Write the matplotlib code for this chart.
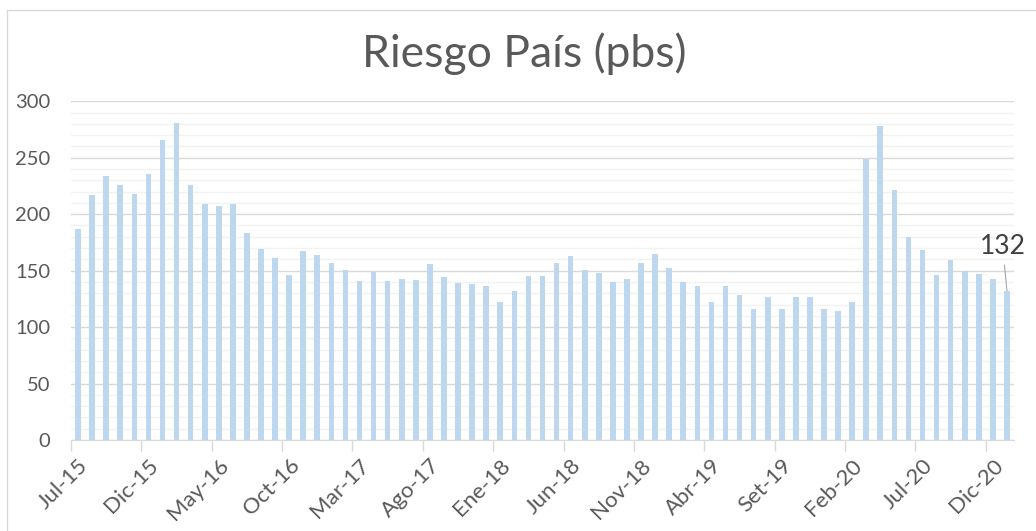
import matplotlib.pyplot as plt
from matplotlib.patches import Rectangle

meses = ['Ene', 'Feb', 'Mar', 'Abr', 'May', 'Jun', 'Jul', 'Ago', 'Set', 'Oct', 'Nov', 'Dic']

# Jul-15 .. Ene-21
riesgo = [187, 217, 234, 226, 218, 236, 266, 281, 226, 209, 207, 209,
          183, 169, 161, 146, 167, 164, 157, 151, 141, 149, 141, 143,
          142, 156, 144, 139, 138, 136, 122, 132, 145, 145, 157, 163,
          151, 148, 140, 143, 157, 165, 152, 140, 136, 122, 136, 128,
          116, 127, 116, 127, 127, 116, 114, 122, 249, 278, 221, 180,
          168, 146, 159, 150, 147, 143, 132]

etiquetas = []
for i in range(len(riesgo)):
    m = (6 + i) % 12
    a = 15 + (6 + i) // 12
    etiquetas.append(f'{meses[m]}-{a}')

plt.rcParams['font.family'] = ['Lato', 'DejaVu Sans']
gris = '#595959'

fig = plt.figure(figsize=(10.36, 5.31), dpi=100)
ax = fig.add_axes([71 / 1036, 1 - 440 / 531, (1014 - 71) / 1036, (440 - 101.3) / 531])

x = list(range(len(riesgo)))
ax.bar(x, riesgo, width=0.4, color='#bdd7ee', zorder=3)

ax.set_xlim(-0.5, len(riesgo) - 0.5)
ax.set_ylim(0, 300)
ax.set_yticks(range(0, 301, 50))
ax.set_yticks(range(0, 301, 10), minor=True)
ax.grid(axis='y', which='major', color='#d9d9d9', lw=1, zorder=0)
ax.grid(axis='y', which='minor', color='#f2f2f2', lw=1, zorder=0)

pos = x[::5]
ax.set_xticks(pos)
ax.set_xticklabels([etiquetas[i] for i in pos], rotation=45, ha='right',
                   rotation_mode='anchor')
ax.set_xticks([p - 0.5 for p in pos], minor=True)
ax.tick_params(axis='x', which='major', length=0, pad=11, labelsize=16, labelcolor=gris)
ax.tick_params(axis='x', which='minor', length=8, color='#d9d9d9', width=1)
ax.tick_params(axis='y', which='both', length=0, labelsize=14.5, labelcolor=gris, pad=15)

for s in ['top', 'right', 'left']:
    ax.spines[s].set_visible(False)
ax.spines['bottom'].set_color('#d9d9d9')
ax.spines['bottom'].set_zorder(4)

ax.annotate(str(riesgo[-1]), xy=(x[-1], riesgo[-1]), xytext=(x[-1] - 0.3, 171),
            ha='center', va='center', fontsize=19, color='#404040',
            arrowprops=dict(arrowstyle='-', color='#a6a6a6', lw=0.8, shrinkA=2, shrinkB=0))

fig.text(524 / 1036, 1 - 67 / 531, 'Riesgo País (pbs)', ha='center', va='baseline',
         fontsize=32, color=gris)

fig.patches.append(Rectangle((7 / 1036, -0.1), 1.2, 1 - 10 / 531 + 0.1, transform=fig.transFigure,
                             fill=False, edgecolor='#d9d9d9', lw=1))

fig.savefig('out.png', dpi=100)
